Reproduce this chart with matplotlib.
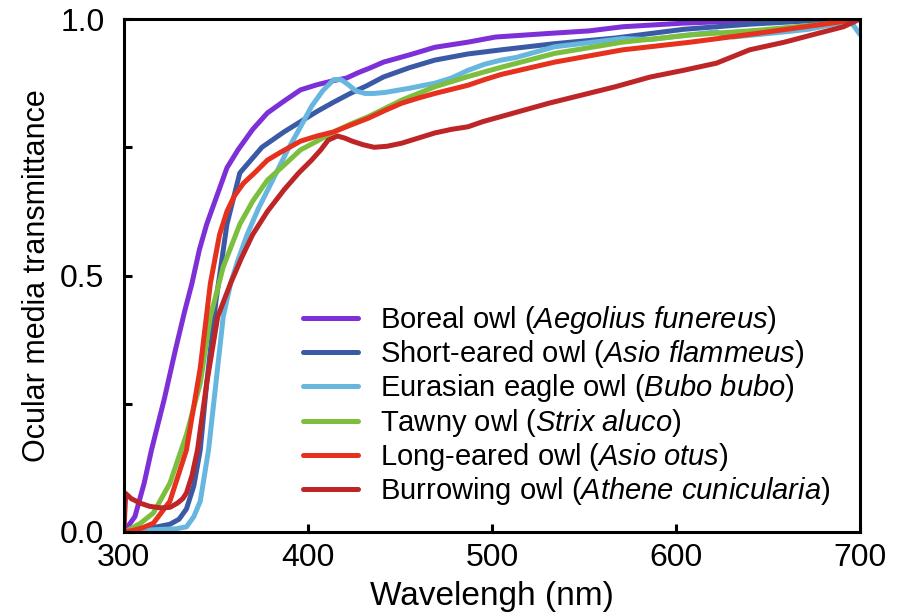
import matplotlib
matplotlib.use('Agg')
import matplotlib.pyplot as plt
from matplotlib.ticker import MultipleLocator

plt.rcParams['font.family'] = ['Liberation Sans', 'DejaVu Sans']
plt.rcParams['mathtext.fontset'] = 'custom'
plt.rcParams['mathtext.rm'] = 'Liberation Sans'
plt.rcParams['mathtext.it'] = 'Liberation Sans:italic'

# transmittance curves (wavelength in nm, transmittance 0-1)
boreal_wl = [300, 302, 306, 311, 315, 322, 328, 333, 337, 341, 345, 351, 356, 362, 370, 378, 387, 396,
             405, 414, 421, 427, 434, 441, 455, 469, 487, 502, 531, 553, 571, 604, 640, 680, 700]
boreal_val = [0, 0.01, 0.03, 0.095, 0.16, 0.26, 0.355, 0.43, 0.485, 0.55, 0.6, 0.66, 0.71, 0.745, 0.785,
              0.817, 0.84, 0.862, 0.872, 0.88, 0.885, 0.895, 0.905, 0.916, 0.93, 0.945, 0.955, 0.965,
              0.972, 0.977, 0.985, 0.992, 0.997, 1.0, 1.0]

short_eared_wl = [300, 305, 312, 318, 325, 330, 334, 338, 341.5, 345, 350, 356, 363, 369, 375, 387, 396,
                  405, 414, 423, 432, 441, 455, 469, 487, 505, 534, 567, 604, 640, 680, 700]
short_eared_val = [0, 0.005, 0.008, 0.01, 0.015, 0.025, 0.045, 0.09, 0.16, 0.29, 0.45, 0.6, 0.7, 0.725,
                   0.75, 0.78, 0.8, 0.82, 0.838, 0.855, 0.87, 0.887, 0.905, 0.92, 0.932, 0.94, 0.952,
                   0.963, 0.98, 0.99, 0.998, 1.0]

eagle_wl = [300, 310, 320, 328, 334, 338, 341.5, 346, 350, 354, 358, 362, 367, 373, 380, 389, 396, 402,
            408, 414, 418, 422, 426, 431, 436, 442, 455, 469, 478, 487, 496, 505, 513, 534, 555, 571,
            586, 604, 622, 631, 645, 659, 672, 686, 695, 700]
eagle_val = [0, 0.003, 0.005, 0.006, 0.01, 0.03, 0.06, 0.16, 0.29, 0.42, 0.485, 0.53, 0.58, 0.63, 0.68,
             0.745, 0.79, 0.83, 0.86, 0.882, 0.882, 0.872, 0.86, 0.855, 0.855, 0.857, 0.865, 0.875,
             0.885, 0.9, 0.912, 0.92, 0.925, 0.946, 0.955, 0.962, 0.96, 0.968, 0.975, 0.965, 0.97,
             0.975, 0.98, 0.99, 0.995, 0.97]

tawny_wl = [300, 303, 309, 316, 325, 334, 341.5, 347, 354, 363, 370, 378, 387, 396, 405, 414, 423, 433,
            442, 451, 460, 469, 478, 487, 496, 505, 534, 571, 608, 644, 680, 700]
tawny_val = [0, 0.005, 0.017, 0.037, 0.095, 0.19, 0.29, 0.42, 0.517, 0.6, 0.645, 0.686, 0.715, 0.745,
             0.762, 0.78, 0.795, 0.81, 0.826, 0.842, 0.855, 0.868, 0.878, 0.888, 0.897, 0.906, 0.933,
             0.955, 0.969, 0.978, 0.99, 1.0]

long_eared_wl = [300, 305, 310, 316, 325, 334, 341.5, 347, 352, 356, 360, 365, 371, 378, 385, 396, 405,
                 414, 423, 433, 442, 451, 460, 469, 478, 487, 496, 505, 534, 571, 608, 644, 680, 700]
long_eared_val = [0, 0.003, 0.008, 0.017, 0.06, 0.16, 0.32, 0.485, 0.58, 0.625, 0.655, 0.68, 0.7, 0.725,
                  0.74, 0.762, 0.772, 0.78, 0.793, 0.807, 0.822, 0.836, 0.846, 0.855, 0.863, 0.871,
                  0.882, 0.892, 0.916, 0.94, 0.955, 0.972, 0.99, 1.0]

burrowing_wl = [300, 301, 304, 309, 314, 320, 325, 329, 332, 334, 337, 340, 345, 351, 358, 364, 370, 378,
                387, 395, 402, 407, 411, 416, 420, 424, 430, 436, 443, 451, 460, 469, 478, 487, 495, 505,
                531, 549, 567, 586, 604, 622, 640, 659, 677, 691, 700]
burrowing_val = [0, 0.075, 0.065, 0.056, 0.05, 0.047, 0.048, 0.056, 0.065, 0.076, 0.11, 0.16, 0.29, 0.42,
                 0.485, 0.535, 0.58, 0.625, 0.667, 0.7, 0.725, 0.745, 0.764, 0.772, 0.768, 0.762, 0.755,
                 0.75, 0.752, 0.758, 0.768, 0.778, 0.785, 0.79, 0.8, 0.81, 0.836, 0.852, 0.868, 0.887,
                 0.9, 0.914, 0.94, 0.955, 0.972, 0.985, 1.0]

labels = [
    r'Boreal owl ($\mathit{Aegolius\ funereus}$)',
    r'Short-eared owl ($\mathit{Asio\ flammeus}$)',
    r'Eurasian eagle owl ($\mathit{Bubo\ bubo}$)',
    r'Tawny owl ($\mathit{Strix\ aluco}$)',
    r'Long-eared owl ($\mathit{Asio\ otus}$)',
    r'Burrowing owl ($\mathit{Athene\ cunicularia}$)',
]
colors = ['#7d2fd8', '#3b5aa6', '#66b6e0', '#7cbf3e', '#e5311d', '#be2527']

series = [
    (boreal_wl, boreal_val),
    (short_eared_wl, short_eared_val),
    (eagle_wl, eagle_val),
    (tawny_wl, tawny_val),
    (long_eared_wl, long_eared_val),
    (burrowing_wl, burrowing_val),
]

fig = plt.figure(figsize=(9.11, 6.15), dpi=100)
ax = fig.add_axes([0.136, 0.135, 0.808, 0.834])

for (wl, val), label, color in zip(series, labels, colors):
    ax.plot(wl, val, color=color, lw=3.6, label=label, solid_capstyle='round')

ax.set_xlim(300, 700)
ax.set_ylim(0, 1.0)
ax.set_xticks([300, 400, 500, 600, 700])
ax.set_yticks([0, 0.5, 1.0])
ax.set_yticklabels(['0.0', '0.5', '1.0'])
ax.yaxis.set_minor_locator(MultipleLocator(0.25))

for spine in ax.spines.values():
    spine.set_linewidth(2.2)

ax.tick_params(axis='both', which='both', direction='in', length=6, width=2.2,
               top=False, right=False, labelsize=23)
ax.tick_params(axis='y', which='major', pad=14)
ax.tick_params(axis='x', which='major', pad=8)

ax.set_xlabel('Wavelengh (nm)', fontsize=24, labelpad=6)
ax.set_ylabel('Ocular media transmittance', fontsize=22, labelpad=6)

ax.legend(loc='upper left', bbox_to_anchor=(0.243, 0.445), frameon=False, fontsize=21,
          handlelength=1.9, handletextpad=0.75, labelspacing=0.08, borderpad=0, borderaxespad=0)

fig.savefig('out.png', dpi=100)
